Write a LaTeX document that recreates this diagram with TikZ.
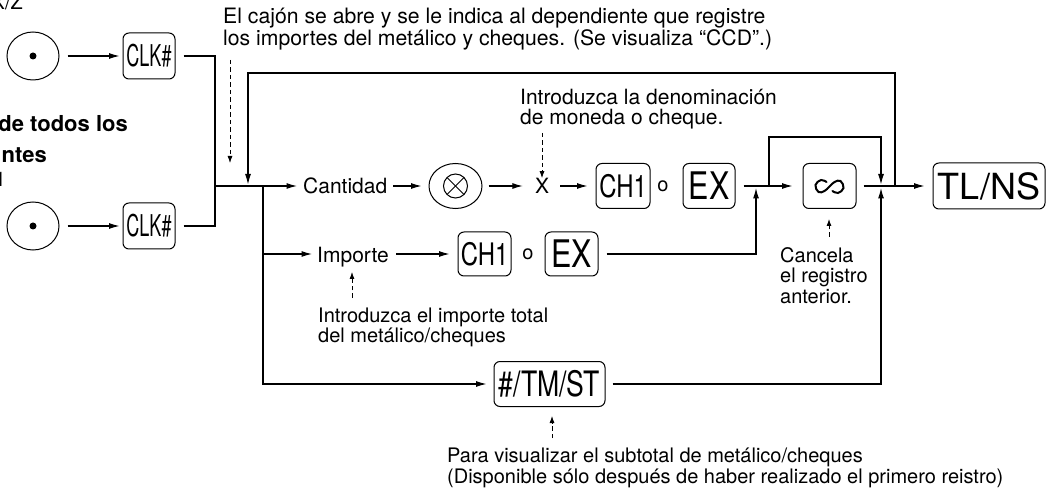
\documentclass[tikz,border=0pt]{standalone}
\usepackage{fontspec}
\usepackage{graphicx}
\setmainfont{TeX Gyre Heros}
\usetikzlibrary{arrows.meta,shapes.geometric,calc}
\newcommand\kf[3]{\scalebox{#2}[1]{\fontsize{#1}{#1}\selectfont #3}}
\begin{document}
\begin{tikzpicture}[x=1pt,y=-1pt,
  ln/.style={line width=1.1pt},
  arr/.style={ln,-{Latex[length=10.5pt,width=6pt]}},
  darr/.style={line width=0.8pt,dash pattern=on 4.5pt off 3pt,-{Latex[length=7pt,width=5pt]}},
  keybox/.style={draw,line width=1pt,rounded corners=6pt,minimum height=45pt,inner sep=0pt},
  ekey/.style={draw,ellipse,line width=1pt,inner sep=0pt},
  txt/.style={inner sep=0pt,font=\fontsize{20}{20}\selectfont},
  ltxt/.style={inner sep=0pt,font=\fontsize{21}{21}\selectfont},
  btxt/.style={inner sep=0pt,font=\fontsize{22}{22}\selectfont\bfseries},
]
\useasboundingbox (0,0) rectangle (1050,489);
\clip (0,0) rectangle (1050,489);

% left clipped texts
\node[txt,anchor=base east] (hxz) at (23,10) {X/Z};
\node[btxt,anchor=base east] (hb1) at (128,132) {de todos los};
\node[btxt,anchor=base east] (hb2) at (47,163) {ntes};
\node[txt,anchor=base east] (h1) at (6,187) {1};

% left keys
\node[ekey,minimum width=52pt,minimum height=48pt] (d1) at (33,56) {};
\fill (d1.center) circle (3.5pt);
\node[keybox,minimum width=52pt,minimum height=46pt] (c1) at (149,56) {\kf{30}{0.6}{CLK\#}};
\node[ekey,minimum width=52pt,minimum height=48pt] (d2) at (33,226) {};
\fill (d2.center) circle (3.5pt);
\node[keybox,minimum width=52pt,minimum height=46pt] (c2) at (149,226) {\kf{30}{0.6}{CLK\#}};
\draw[arr,shorten <=8pt,shorten >=3pt] (d1) -- (c1);
\draw[arr,shorten <=8pt,shorten >=3pt] (d2) -- (c2);

\coordinate (j) at (215,186);
\draw[ln,shorten <=8pt] (c1.east) -| (j);
\draw[ln,shorten <=8pt] (c2.east) -| (j);

% top note
\node[inner sep=0pt,font=\fontsize{21.2}{21}\selectfont,anchor=base west] (n1a) at (223,23.5) {El cajón se abre y se le indica al dependiente que registre};
\node[inner sep=0pt,font=\fontsize{21.2}{21}\selectfont,anchor=base west] (n1b) at (223,45.5) {los importes del metálico y cheques. (Se visualiza “CCD”.)};
\coordinate (da1) at (230,60);
\coordinate (da1e) at (230,163);
\draw[darr] (da1) -- (da1e);

% main row
\node[ltxt,anchor=west] (cant) at (303,186) {Cantidad};
\node[ekey,minimum width=53pt,minimum height=45pt] (mul) at (455.5,186) {};
\draw[line width=1pt] (mul.center) circle (12pt);
\draw[line width=1pt] ($(mul.center)+(-8.5,-8.5)$) -- ($(mul.center)+(8.5,8.5)$);
\draw[line width=1pt] ($(mul.center)+(-8.5,8.5)$) -- ($(mul.center)+(8.5,-8.5)$);
\node[ltxt] (xl) at (542,186) {X};
\node[keybox,minimum width=54pt] (ch1) at (623,186) {\kf{31}{0.77}{CH1}};
\node[txt] (o1) at (663,186) {o};
\node[keybox,minimum width=52pt] (ex1) at (709,186) {\kf{38}{0.8}{EX}};
\node[keybox,minimum width=53pt] (inf) at (829.5,186) {};
\begin{scope}[shift={(829.5,186.5)}]
\draw[line width=2pt,line cap=round] plot[smooth,tension=0.7] coordinates {(-3,-4.5) (-8.5,-6.5) (-14,-1.5) (-11,5.5) (-5,4.5) (0,0) (5,-4.5) (11,-5.5) (14,1.5) (8.5,6.5) (3,4.5)};
\end{scope}
\node[keybox,minimum width=112pt,minimum height=46pt] (tl) at (989,186) {\kf{36}{1}{TL/NS}};

\node[ltxt,anchor=base west] (n2a) at (520,105) {Introduzca la denominación};
\node[ltxt,anchor=base west] (n2b) at (520,125) {de moneda o cheque.};
\coordinate (da2) at (542,133);
\draw[darr] (da2) -- (xl.north);

\draw[arr,shorten >=6pt] (j) -- (cant);
\draw[arr,shorten <=6pt,shorten >=7pt] (cant) -- (mul);
\draw[arr,shorten <=6pt,shorten >=12pt] (mul) -- (xl);
\draw[arr,shorten <=11pt,shorten >=8pt] (xl) -- (ch1);
\draw[arr,shorten <=8pt,shorten >=10pt] (ex1) -- (inf);
\draw[arr,shorten <=7pt,shorten >=8pt] (inf) -- (tl);

\coordinate (b1) at (769,186);
\coordinate (bt) at (881,137);
\coordinate (m1) at (756,186);
\coordinate (m2) at (881,186);
\draw[arr,shorten >=1.5pt] (b1) |- (bt) -- (m2);

\coordinate (lp) at (895,186);
\coordinate (lt) at (248,73);
\coordinate (la) at (248,186);
\draw[arr,shorten >=1.5pt] (lp) |- (lt) -- (la);

% cancel note
\node[txt,anchor=base west] (n3a) at (780,263) {Cancela};
\node[txt,anchor=base west] (n3b) at (780,283) {el registro};
\node[txt,anchor=base west] (n3c) at (780,303) {anterior.};
\coordinate (da3) at (829,237);
\coordinate (da3e) at (829,219);
\draw[darr] (da3) -- (da3e);

% importe row
\coordinate (bd) at (263,186);
\coordinate (ir) at (263,254);
\node[ltxt,anchor=base west] (imp) at (317,262) {Importe};
\node[keybox,minimum width=53pt,minimum height=44pt] (ch1b) at (484.5,254) {\kf{31}{0.77}{CH1}};
\node[txt] (o2) at (528,254) {o};
\node[keybox,minimum width=53pt,minimum height=44pt] (ex1b) at (571.5,254) {\kf{38}{0.8}{EX}};
\draw[arr,shorten >=5pt] (ir) -- (imp.west |- ir);
\draw[arr,shorten <=7pt,shorten >=8pt] (imp.east |- ir) -- (ch1b);
\draw[arr,shorten <=8pt,shorten >=2pt] (ex1b) -| (m1);

\node[txt,anchor=base west] (n4a) at (318,322) {Introduzca el importe total};
\node[txt,anchor=base west] (n4b) at (318,342) {del metálico/cheques};
\coordinate (da4) at (352,298);
\coordinate (da4e) at (352,272);
\draw[darr] (da4) -- (da4e);

% bottom row
\node[keybox,minimum width=111pt,minimum height=45pt] (tm) at (549.5,384) {\kf{35}{0.76}{\#/TM/ST}};
\draw[arr,shorten >=7pt] (bd) |- (tm);
\draw[arr,shorten <=7pt,shorten >=2pt] (tm) -| (m2);

\node[txt,anchor=base west] (n5a) at (447,462) {Para visualizar el subtotal de metálico/cheques};
\node[txt,anchor=base west] (n5b) at (447,483) {(Disponible sólo después de haber realizado el primero reistro)};
\coordinate (da5) at (552,438);
\coordinate (da5e) at (552,416);
\draw[darr] (da5) -- (da5e);
\end{tikzpicture}
\end{document}
